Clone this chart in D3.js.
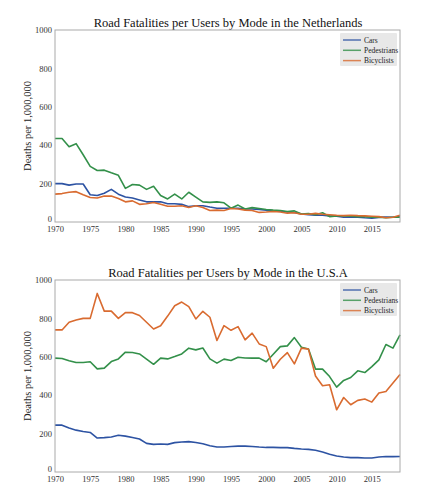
<!DOCTYPE html>
<html>
<head>
<meta charset="utf-8">
<script src="https://cdn.jsdelivr.net/npm/d3@7"></script>
<style>
body{margin:0;background:#fff;}
svg text{font-family:"Liberation Serif","DejaVu Serif",serif;}
</style>
</head>
<body>
<div id="container"></div>
<script>
let w=444;
let h=500;

// years 1970..2019
let years=d3.range(1970,2020);
let xTicks=[1970,1975,1980,1985,1990,1995,2000,2005,2010,2015];
let yTicks=[0,200,400,600,800,1000];
let modes=["Cars","Pedestrians","Bicyclists"];
let colors=["#2d53a3","#33904a","#d96b30"];

let nlCars=[200,200,192,198,198,142,138,150,170,145,130,125,115,105,105,105,95,95,92,80,85,85,78,72,72,72,72,68,68,65,62,58,56,52,50,42,38,36,35,32,30,25,25,25,22,20,24,26,25,28];
let nlPed=[435,435,392,408,350,290,268,270,256,243,175,195,192,170,186,138,120,145,120,155,130,105,102,105,100,72,88,68,75,70,65,62,60,55,58,42,44,38,48,28,32,32,30,28,28,25,25,22,25,25];
let nlBike=[145,148,155,158,142,128,125,135,135,122,105,110,92,95,102,92,82,82,85,76,85,75,60,62,60,70,68,62,60,50,52,55,52,46,48,40,40,45,40,38,35,33,35,33,32,30,28,22,25,35];

let usCars=[244,244,229,218,211,206,177,179,182,191,187,180,172,149,144,146,144,153,156,158,154,147,137,130,130,133,135,135,133,130,128,128,127,127,123,120,118,113,104,92,83,78,75,75,73,73,78,81,80,81];
let usPed=[593,591,579,570,570,574,537,541,575,589,624,622,615,588,561,593,589,601,615,645,636,646,589,567,588,581,598,594,593,593,574,613,653,657,700,650,641,536,536,497,442,477,492,527,518,549,584,664,645,714];
let usBike=[740,740,780,792,800,800,930,838,838,800,830,830,815,780,745,762,812,866,885,861,797,837,806,685,762,738,757,688,723,667,653,541,587,622,563,645,640,500,449,454,324,388,350,373,380,364,411,419,463,508];

let viz=d3.select("#container").append("svg")
  .attr("width",w).attr("height",h);

function drawChart(top,title,series){
  let x=d3.scaleLinear().domain([1970,2019]).range([55,400]);
  let y=d3.scaleLinear().domain([0,1000]).range([top+192,top]);
  let g=viz.append("g");

  g.append("text").text(title)
    .attr("x",228).attr("y",top-3)
    .attr("text-anchor","middle")
    .attr("font-size",12.5).attr("fill","#111");

  let xa=g.append("g").attr("transform","translate(0,"+(top+192)+")")
    .call(d3.axisBottom(x).tickValues(xTicks).tickFormat(d3.format("d")).tickSize(0).tickPadding(4));
  let ya=g.append("g").attr("transform","translate(55,0)")
    .call(d3.axisLeft(y).tickValues(yTicks).tickFormat(d3.format("d")).tickSize(0).tickPadding(3));
  [xa,ya].forEach(function(a){
    a.select(".domain").remove();
    a.selectAll("text").attr("font-size",8.5).attr("fill","#333")
      .style("font-family","'Liberation Serif',serif");
  });
  // lift the zero label a little so it sits above the first year label
  ya.selectAll(".tick").filter(function(d){return d===0;}).select("text").attr("dy","-0.05em");

  g.append("text").text("Deaths per 1,000,000")
    .attr("transform","translate(31,"+(top+96)+") rotate(-90)")
    .attr("text-anchor","middle").attr("font-size",10.5).attr("fill","#222");

  let line=d3.line().x(function(d,i){return x(years[i]);}).y(function(d){return y(d);});
  series.forEach(function(s,k){
    g.append("path").datum(s)
      .attr("d",line).attr("fill","none")
      .attr("stroke",colors[k]).attr("stroke-width",1.6)
      .attr("stroke-linejoin","round");
  });

  g.append("rect").attr("x",55).attr("y",top).attr("width",345).attr("height",192)
    .attr("fill","none").attr("stroke","#aaa").attr("stroke-width",1);

  // legend
  let lg=g.append("g").attr("transform","translate(340,"+(top+3)+")");
  lg.append("rect").attr("width",57).attr("height",33).attr("fill","#e8e8e8").attr("rx",1);
  modes.forEach(function(m,k){
    let yy=7+k*10.3;
    lg.append("line").attr("x1",3).attr("x2",21).attr("y1",yy).attr("y2",yy)
      .attr("stroke",colors[k]).attr("stroke-width",1.5).attr("opacity",0.8);
    lg.append("text").text(m).attr("x",24).attr("y",yy+2.5)
      .attr("font-size",7.5).attr("fill","#222");
  });
}

drawChart(30,"Road Fatalities per Users by Mode in the Netherlands",[nlCars,nlPed,nlBike]);
drawChart(280,"Road Fatalities per Users by Mode in the U.S.A",[usCars,usPed,usBike]);
</script>
</body>
</html>
